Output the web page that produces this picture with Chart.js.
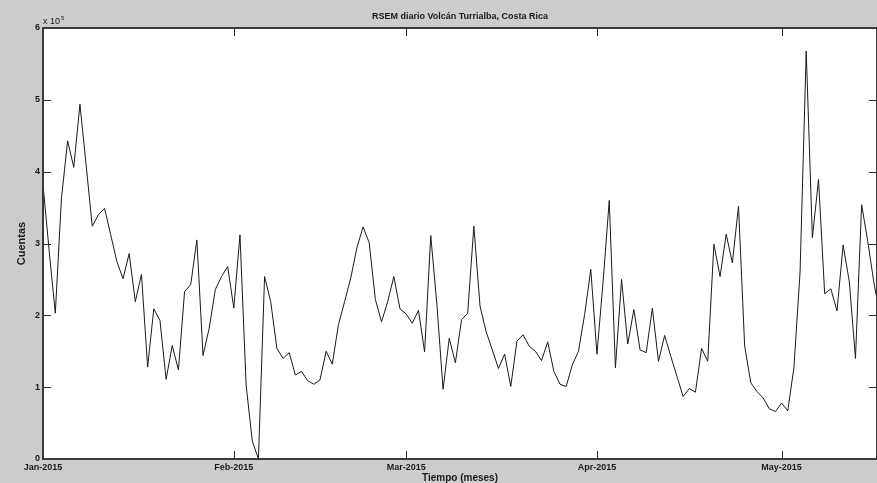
<!DOCTYPE html>
<html>
<head>
<meta charset="utf-8">
<title>RSEM diario Volcán Turrialba</title>
<script src="https://cdn.jsdelivr.net/npm/chart.js@4.4.1/dist/chart.umd.min.js"></script>
<style>
  html, body { margin: 0; padding: 0; background: #cccccc; }
  canvas { display: block; }
</style>
</head>
<body>
<canvas id="rsemChart" width="877" height="483"></canvas>
<script>
// RSEM diario (cuentas), un valor por dia desde el 1 de enero de 2015
const cuentas = [
  382000, 290000, 203000, 363000, 443000, 406000, 494000, 410000, 324000, 340000,
  349000, 312000, 275000, 251000, 286000, 219000, 257000, 128000, 209000, 193000,
  111000, 158000, 124000, 233000, 243000, 305000, 144000, 182000, 236000, 254000,
  268000, 210000, 312000, 103000, 25000, 0, 254000, 219000, 154000, 140000,
  148000, 117000, 122000, 109000, 104000, 110000, 150000, 132000, 187000, 219000,
  252000, 294000, 323000, 301000, 222000, 191000, 219000, 254000, 209000, 202000,
  189000, 207000, 149000, 311000, 215000, 97000, 168000, 134000, 194000, 203000,
  324000, 213000, 177000, 152000, 126000, 146000, 101000, 164000, 173000, 157000,
  150000, 137000, 163000, 122000, 104000, 101000, 131000, 150000, 201000, 264000,
  146000, 247000, 360000, 127000, 250000, 160000, 208000, 152000, 148000, 210000,
  136000, 172000, 143000, 115000, 87000, 98000, 93000, 154000, 136000, 299000,
  254000, 313000, 273000, 352000, 157000, 106000, 94000, 85000, 70000, 66000,
  78000, 67000, 127000, 260000, 568000, 308000, 389000, 230000, 237000, 206000,
  298000, 247000, 140000, 354000, 303000, 245000, 200000
];

// inicio de cada mes (dias desde el 1 de enero) y sus etiquetas
const mesesDia = [0, 31, 59, 90, 120];
const mesesEtiquetas = ["Jan-2015", "Feb-2015", "Mar-2015", "Apr-2015", "May-2015"];
const yTicks = [0, 100000, 200000, 300000, 400000, 500000, 600000];
const diaFinal = 135.5;

const puntos = cuentas.map((v, i) => ({ x: i, y: v }));

// fondo gris tipo figura de MATLAB, caja, marcas hacia adentro y multiplicador
const estiloMatlab = {
  id: "estiloMatlab",
  beforeDraw(chart) {
    const { ctx, chartArea: a } = chart;
    ctx.save();
    ctx.fillStyle = "#cccccc";
    ctx.fillRect(0, 0, chart.width, chart.height);
    ctx.fillStyle = "#ffffff";
    ctx.fillRect(a.left, a.top, a.right - a.left, a.bottom - a.top);
    ctx.restore();
  },
  afterDatasetsDraw(chart) {
    const { ctx, chartArea: a, scales } = chart;
    const tl = 8;
    ctx.save();
    ctx.strokeStyle = "#262626";
    ctx.lineWidth = 1;
    ctx.beginPath();
    yTicks.forEach((v) => {
      const y = Math.round(scales.y.getPixelForValue(v)) + 0.5;
      ctx.moveTo(a.left, y); ctx.lineTo(a.left + tl, y);
      ctx.moveTo(a.right, y); ctx.lineTo(a.right - tl, y);
    });
    mesesDia.forEach((d) => {
      const x = Math.round(scales.x.getPixelForValue(d)) + 0.5;
      ctx.moveTo(x, a.bottom); ctx.lineTo(x, a.bottom - tl);
      ctx.moveTo(x, a.top); ctx.lineTo(x, a.top + tl);
    });
    ctx.stroke();

    ctx.strokeStyle = "#3a3a3a";
    ctx.lineWidth = 2;
    ctx.strokeRect(a.left, a.top, a.right - a.left, a.bottom - a.top);

    // multiplicador del eje y
    ctx.fillStyle = "#1a1a1a";
    ctx.font = "9px 'Liberation Sans', Arial, sans-serif";
    ctx.textBaseline = "middle";
    ctx.textAlign = "left";
    ctx.fillText("x 10", a.left + 0, a.top - 6);
    ctx.font = "6px 'Liberation Sans', Arial, sans-serif";
    ctx.fillText("5", a.left + 18, a.top - 10);
    ctx.restore();
  }
};

const ctx = document.getElementById("rsemChart").getContext("2d");

new Chart(ctx, {
  type: "line",
  data: {
    datasets: [
      {
        label: "RSEM",
        data: puntos,
        borderColor: "#1a1a1a",
        borderWidth: 1,
        pointRadius: 0,
        tension: 0,
        fill: false,
      },
    ],
  },
  options: {
    responsive: false,
    animation: false,
    layout: { padding: 0 },
    plugins: {
      legend: { display: false },
      tooltip: { enabled: false },
      title: {
        display: true,
        fullSize: false,
        text: "RSEM diario Volcán Turrialba, Costa Rica",
        color: "#1a1a1a",
        font: { family: "'Liberation Sans', Arial, sans-serif", size: 9, weight: "bold", lineHeight: 1 },
        padding: { top: 12.5, bottom: 6.5 },
      },
    },
    scales: {
      x: {
        type: "linear",
        min: 0,
        max: diaFinal,
        grid: { display: false, drawTicks: false },
        border: { display: false },
        afterBuildTicks(scale) {
          scale.ticks = mesesDia.map((d) => ({ value: d }));
        },
        afterFit(scale) {
          scale.height = 24;
        },
        ticks: {
          padding: 3,
          maxRotation: 0,
          autoSkip: false,
          color: "#1a1a1a",
          font: { family: "'Liberation Sans', Arial, sans-serif", size: 9, weight: "bold" },
          callback: (value) => {
            const i = mesesDia.indexOf(value);
            return i >= 0 ? mesesEtiquetas[i] : "";
          },
        },
        title: {
          display: true,
          text: "Tiempo (meses)",
          color: "#1a1a1a",
          font: { family: "'Liberation Sans', Arial, sans-serif", size: 10, weight: "bold" },
          padding: { top: 0, bottom: -1 },
        },
      },
      y: {
        min: 0,
        max: 600000,
        grid: { display: false, drawTicks: false },
        border: { display: false },
        afterBuildTicks(scale) {
          scale.ticks = yTicks.map((v) => ({ value: v }));
        },
        afterFit(scale) {
          scale.width = 43;
        },
        ticks: {
          padding: 3,
          color: "#1a1a1a",
          font: { family: "'Liberation Sans', Arial, sans-serif", size: 9, weight: "bold" },
          callback: (value) => String(value / 100000),
        },
        title: {
          display: true,
          text: "Cuentas",
          color: "#1a1a1a",
          font: { family: "'Liberation Sans', Arial, sans-serif", size: 11, weight: "bold" },
          padding: { top: 15, bottom: 0 },
        },
      },
    },
  },
  plugins: [estiloMatlab],
});
</script>
</body>
</html>
